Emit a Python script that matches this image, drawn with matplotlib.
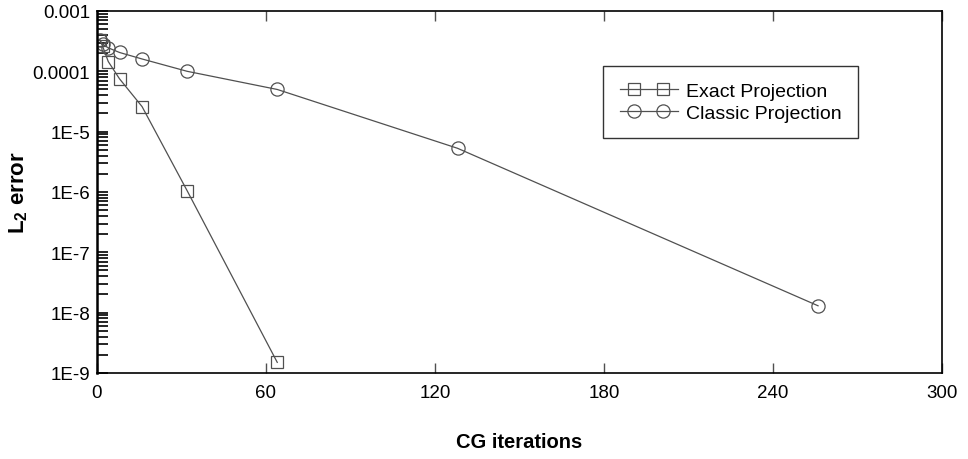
import numpy as np
import matplotlib.pyplot as plt
from matplotlib.ticker import FixedLocator, LogLocator, NullFormatter
from matplotlib.legend_handler import HandlerLine2DCompound

plt.rcParams['font.family'] = ['Liberation Sans', 'DejaVu Sans']
plt.rcParams['mathtext.fontset'] = 'custom'
plt.rcParams['mathtext.rm'] = 'Liberation Sans'
plt.rcParams['mathtext.bf'] = 'Liberation Sans:bold'

# data
exact_iters = [1, 2, 4, 8, 16, 32, 64]
exact_err = [3.3e-4, 2.6e-4, 1.45e-4, 7.5e-5, 2.6e-5, 1.05e-6, 1.5e-9]
classic_iters = [1, 2, 4, 8, 16, 32, 64, 128, 256]
classic_err = [3.3e-4, 2.8e-4, 2.45e-4, 2.05e-4, 1.6e-4, 1.0e-4, 5.0e-5, 5.3e-6, 1.3e-8]

x_ticks = [0, 60, 120, 180, 240, 300]
y_ticks = [1e-9, 1e-8, 1e-7, 1e-6, 1e-5, 1e-4, 1e-3]
y_labels = ['1E-9', '1E-8', '1E-7', '1E-6', '1E-5', '0.0001', '0.001']

col = '#505050'


# legend line runs the full handle, the two markers sit inside it
class InsetMarkers(HandlerLine2DCompound):
    def get_xdata(self, legend, xdescent, ydescent, width, height, fontsize):
        xline = np.array([-xdescent, -xdescent + width])
        pad = 0.25 * width
        xmark = np.array([-xdescent + pad, -xdescent + width - pad])
        return xline, xmark


fig = plt.figure(figsize=(9.68, 4.6), dpi=100)
ax = fig.add_axes([0.1002, 0.187, 0.8729, 0.787])

ax.plot(exact_iters, exact_err, color=col, lw=0.9, marker='s', ms=9,
        mfc='none', mec=col, mew=0.9, label='Exact Projection')
ax.plot(classic_iters, classic_err, color=col, lw=0.9, marker='o', ms=9.5,
        mfc='none', mec=col, mew=0.9, label='Classic Projection')

ax.set_yscale('log')
ax.set_xlim(0, 300)
ax.set_ylim(1e-9, 1e-3)

ax.xaxis.set_major_locator(FixedLocator(x_ticks))
ax.set_xticklabels([str(t) for t in x_ticks])
ax.yaxis.set_major_locator(FixedLocator(y_ticks))
ax.set_yticklabels(y_labels)
ax.yaxis.set_minor_locator(LogLocator(base=10, subs=np.arange(2, 10)))
ax.yaxis.set_minor_formatter(NullFormatter())

ax.tick_params(axis='x', which='major', direction='in', length=7.5, width=1,
               top=True, labelsize=13.5, pad=8, color=col)
ax.tick_params(axis='y', which='both', direction='in', length=8, width=1.2,
               right=False, labelsize=13.5, pad=5, color='black')
for s in ax.spines.values():
    s.set_linewidth(1.2)
ax.spines['left'].set_linewidth(1.8)

ax.set_xlabel('CG iterations', fontsize=14.5, fontweight='bold', labelpad=22)
ax.set_ylabel(r'L$_\mathbf{2}$ error', fontsize=16, fontweight='bold')
ax.yaxis.set_label_coords(-0.079, 0.5)

leg = ax.legend(loc='upper left', bbox_to_anchor=(0.599, 0.848), borderaxespad=0,
                fontsize=14, frameon=True, fancybox=False, handlelength=3.0,
                borderpad=0.85, labelspacing=0.2, handletextpad=0.4,
                handler_map={plt.Line2D: InsetMarkers(numpoints=2)})
leg.get_frame().set_edgecolor('black')
leg.get_frame().set_linewidth(1.0)

fig.savefig('out.png', dpi=100)
